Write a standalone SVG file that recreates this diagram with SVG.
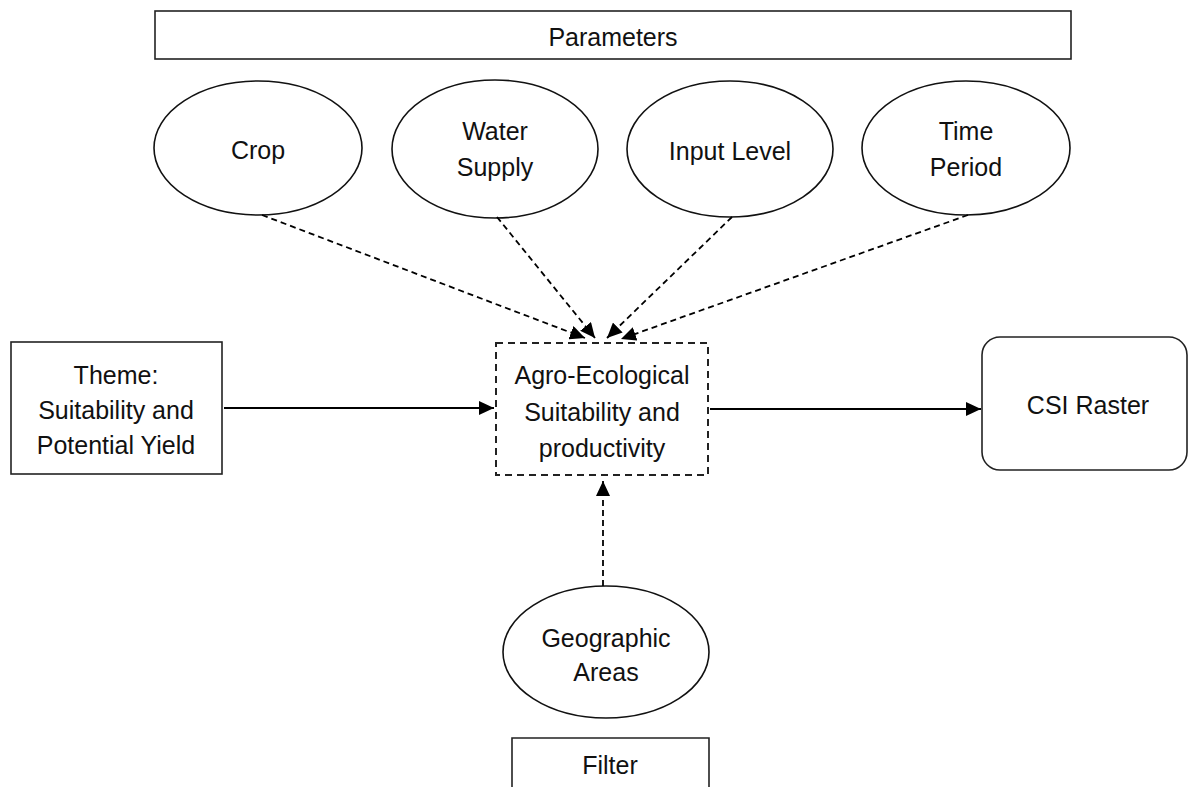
<svg xmlns="http://www.w3.org/2000/svg" width="1189" height="787" viewBox="0 0 1189 787">
<defs>
<style>
.box{fill:#fff;stroke:#222;stroke-width:1.6}
.ell{fill:#fff;stroke:#111;stroke-width:1.6}
.dbox{fill:#fff;stroke:#222;stroke-width:2;stroke-dasharray:7 5}
.t{font-family:"Liberation Sans",Arial,sans-serif;font-size:25px;fill:#111;text-anchor:middle}
.solid{fill:none;stroke:#000;stroke-width:1.8}
.dash{fill:none;stroke:#000;stroke-width:1.8;stroke-dasharray:6 4}
</style>
<marker id="ah" markerUnits="userSpaceOnUse" markerWidth="16" markerHeight="14" refX="15" refY="7" orient="auto">
<path d="M0,0 L15,7 L0,14 z" fill="#000"/>
</marker>
</defs>
<rect width="1189" height="787" fill="#fff"/>

<g id="parameters">
<rect class="box" x="155" y="11" width="916" height="48"/>
<text class="t" x="613" y="46">Parameters</text>
</g>
<g id="crop">
<ellipse class="ell" cx="258" cy="148" rx="104" ry="67"/>
<text class="t" x="258" y="159">Crop</text>
</g>
<g id="water-supply">
<ellipse class="ell" cx="495" cy="149" rx="103" ry="69"/>
<text class="t" x="495" y="140">Water</text>
<text class="t" x="495" y="176">Supply</text>
</g>
<g id="input-level">
<ellipse class="ell" cx="730" cy="149" rx="103" ry="68"/>
<text class="t" x="730" y="160">Input Level</text>
</g>
<g id="time-period">
<ellipse class="ell" cx="966" cy="148" rx="104" ry="67"/>
<text class="t" x="966" y="140">Time</text>
<text class="t" x="966" y="176">Period</text>
</g>
<g id="theme">
<rect class="box" x="11" y="342" width="211" height="132"/>
<text class="t" x="116" y="384">Theme:</text>
<text class="t" x="116" y="419">Suitability and</text>
<text class="t" x="116" y="454">Potential Yield</text>
</g>
<g id="agro">
<rect class="dbox" x="496" y="343" width="212" height="132"/>
<text class="t" x="602" y="384">Agro-Ecological</text>
<text class="t" x="602" y="421">Suitability and</text>
<text class="t" x="602" y="457">productivity</text>
</g>
<g id="csi-raster">
<rect class="box" x="982" y="337" width="205" height="133" rx="18" ry="18"/>
<text class="t" x="1088" y="414">CSI Raster</text>
</g>
<g id="geographic-areas">
<ellipse class="ell" cx="606" cy="652" rx="103" ry="66"/>
<text class="t" x="606" y="647">Geographic</text>
<text class="t" x="606" y="681">Areas</text>
</g>
<g id="filter">
<path class="box" d="M512,790 L512,738 L709,738 L709,790"/>
<text class="t" x="610" y="774">Filter</text>
</g>

<g id="connectors">
<line class="solid" x1="224" y1="408" x2="494" y2="408" marker-end="url(#ah)"/>
<line class="solid" x1="710" y1="409" x2="981" y2="409" marker-end="url(#ah)"/>
<line class="dash" x1="262" y1="215" x2="585" y2="338" marker-end="url(#ah)"/>
<line class="dash" x1="497" y1="217" x2="595" y2="338" marker-end="url(#ah)"/>
<line class="dash" x1="732" y1="217" x2="607" y2="338" marker-end="url(#ah)"/>
<line class="dash" x1="968" y1="215" x2="621" y2="339" marker-end="url(#ah)"/>
<line class="dash" x1="603" y1="586" x2="603" y2="481" marker-end="url(#ah)"/>
</g>
</svg>
